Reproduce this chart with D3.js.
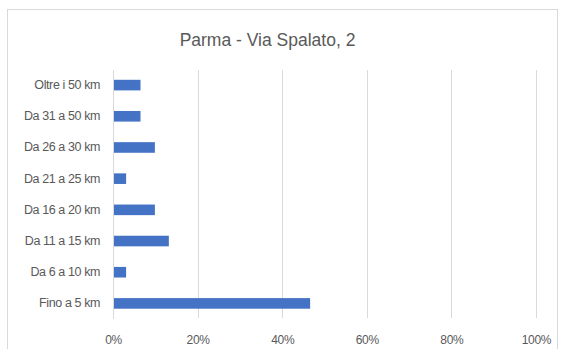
<!DOCTYPE html>
<html><head><meta charset="utf-8">
<script src="https://cdn.jsdelivr.net/npm/d3@7"></script>
<style>
html,body{margin:0;padding:0;background:#fff;}
svg{display:block;}
text{font-family:"Liberation Sans",Arial,sans-serif;}
</style>
</head><body>
<svg id="chart" width="564" height="349"></svg>
<script>
const categories = ["Oltre i 50 km","Da 31 a 50 km","Da 26 a 30 km","Da 21 a 25 km","Da 16 a 20 km","Da 11 a 15 km","Da 6 a 10 km","Fino a 5 km"];
const values = [0.065,0.065,0.099,0.031,0.099,0.132,0.031,0.466];
const tickValues = [0,0.2,0.4,0.6,0.8,1.0];
const title = "Parma - Via Spalato, 2";

const svg = d3.select("#chart");
svg.append("rect").attr("x",7.5).attr("y",9.5).attr("width",550).attr("height",345)
  .attr("fill","#fff").attr("stroke","#d9d9d9");

const x = d3.scaleLinear().domain([0,1]).range([113,536]);
const y = d3.scaleBand().domain(categories).range([69.5,319]).paddingInner(0.66).paddingOuter(0.33);

svg.append("text").attr("x",267.5).attr("y",46).attr("text-anchor","middle")
  .attr("font-size",17.5).attr("fill","#595959").text(title);

svg.append("g").selectAll("line").data(tickValues.slice(1)).join("line")
  .attr("x1",d=>Math.round(x(d))+0.5).attr("x2",d=>Math.round(x(d))+0.5)
  .attr("y1",70).attr("y2",318).attr("stroke","#d9d9d9");

svg.append("g").selectAll("rect").data(values).join("rect")
  .attr("x",x(0)).attr("y",(d,i)=>y(categories[i]))
  .attr("width",d=>x(d)-x(0)).attr("height",y.bandwidth())
  .attr("fill","#4472c4");

svg.append("line").attr("x1",113.5).attr("x2",113.5).attr("y1",70).attr("y2",319).attr("stroke","#d9d9d9");

const yAxis = d3.axisLeft(y).tickSize(0).tickPadding(13);
const gy = svg.append("g").attr("transform","translate(113,0)").call(yAxis);
gy.select(".domain").remove();
gy.selectAll("text").attr("font-size",12.5).attr("fill","#595959").attr("font-family","Liberation Sans, Arial, sans-serif").attr("letter-spacing","-0.4");

const xAxis = d3.axisBottom(x).tickValues(tickValues).tickFormat(d3.format(".0%")).tickSize(0).tickPadding(14);
const gx = svg.append("g").attr("transform","translate(0,321)").call(xAxis);
gx.select(".domain").remove();
gx.selectAll("text").attr("font-size",12).attr("fill","#595959").attr("font-family","Liberation Sans, Arial, sans-serif").attr("letter-spacing","-0.3");
</script>
</body></html>
